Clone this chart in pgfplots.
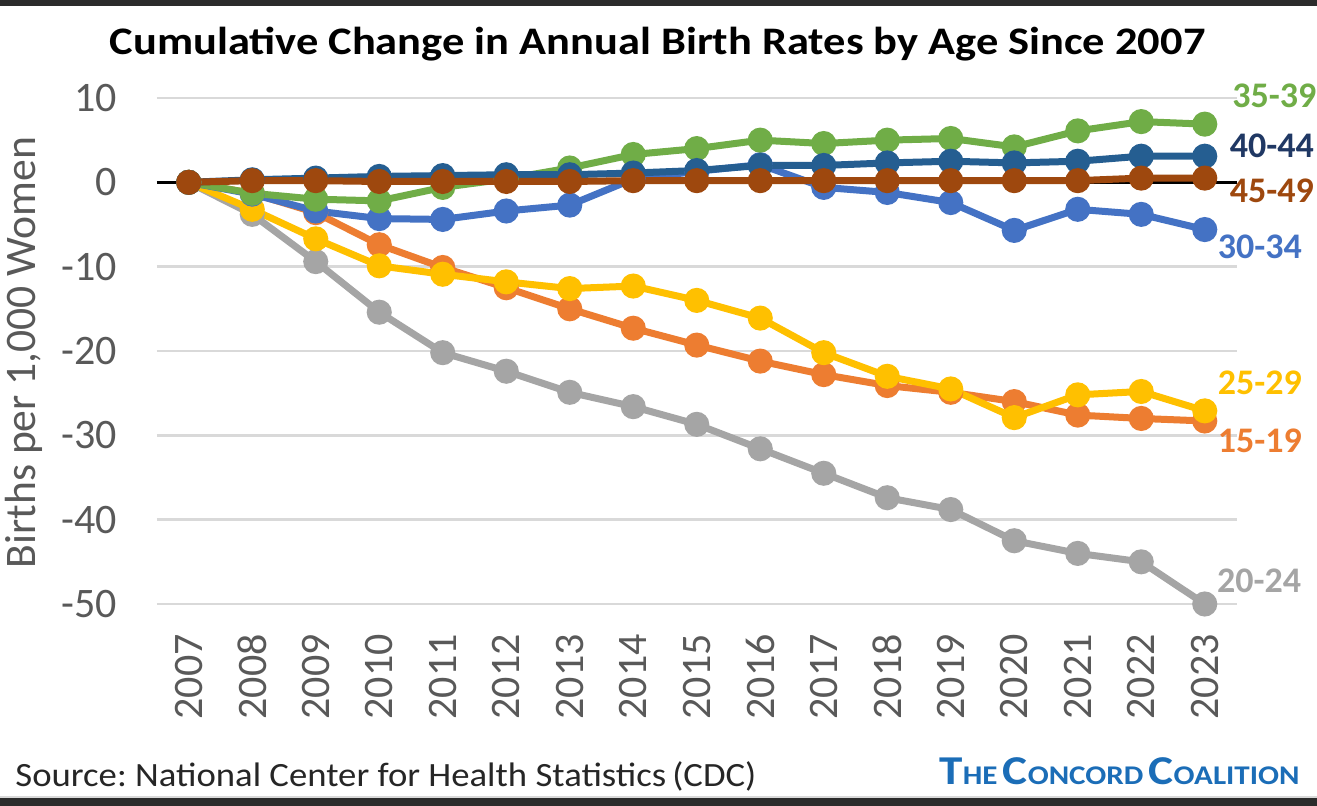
\documentclass[border=0pt]{standalone}
\usepackage{fontspec}
\setmainfont{Carlito}
\usepackage{pgfplots}
\pgfplotsset{compat=1.18}
\frenchspacing
\definecolor{c1519}{HTML}{ED7D31}
\definecolor{c2024}{HTML}{A5A5A5}
\definecolor{c2529}{HTML}{FFC000}
\definecolor{c3034}{HTML}{4472C4}
\definecolor{c3539}{HTML}{70AD47}
\definecolor{c4044}{HTML}{255E91}
\definecolor{c4044t}{HTML}{203864}
\definecolor{c4549}{HTML}{9E480E}
\definecolor{tickgray}{HTML}{595959}
\definecolor{gridgray}{HTML}{D9D9D9}
\definecolor{concord}{HTML}{1B6DB7}
\definecolor{band}{HTML}{2B2B2B}
\begin{document}
\begin{tikzpicture}
\path[use as bounding box, fill=white] (-78.5pt,-101pt) rectangle (580pt,302pt);
\fill[band] (-78.5pt,299pt) rectangle (580pt,302pt);
\fill[band] (-78.5pt,-101pt) rectangle (580pt,-97pt);
\fill[gridgray] (-78.5pt,-97pt) rectangle (580pt,-96pt);
\node[anchor=base, inner sep=0pt, xscale=1.14, font=\fontsize{19.5pt}{19.5pt}\selectfont\bfseries] at (250.25pt,274.5pt) {Cumulative Change in Annual Birth Rates by Age Since 2007};
\node[anchor=base west, inner sep=0pt, xscale=1.08, text={black!85}, font=\fontsize{17pt}{17pt}\selectfont] at (-71pt,-91.5pt) {Source: National Center for Health Statistics\,(CDC)};
\node[anchor=base east, inner sep=0pt, xscale=1.15, text=concord, font=\bfseries] at (571.5pt,-90.5pt) {{\fontsize{20.5pt}{20.5pt}\selectfont T}{\fontsize{13.5pt}{13.5pt}\selectfont HE} {\fontsize{20.5pt}{20.5pt}\selectfont C}{\fontsize{13.5pt}{13.5pt}\selectfont ONCORD} {\fontsize{20.5pt}{20.5pt}\selectfont C}{\fontsize{13.5pt}{13.5pt}\selectfont OALITION}};
\begin{axis}[
  at={(0pt,0pt)}, anchor=south west,
  scale only axis, width=539.75pt, height=253pt,
  xmin=-0.5, xmax=16.5, ymin=-50, ymax=10,
  xtick={0,...,16},
  xticklabels={2007,2008,2009,2010,2011,2012,2013,2014,2015,2016,2017,2018,2019,2020,2021,2022,2023},
  ytick={-50,-40,-30,-20,-10,0,10},
  yticklabels={-50,-40,-30,-20,-10,0,10},
  ymajorgrids, grid style={gridgray, line width=1.25pt},
  axis line style={draw=none}, tick style={draw=none},
  xticklabel style={rotate=90, anchor=east, inner sep=0pt, text=tickgray, font=\fontsize{21pt}{21pt}\selectfont},
  yticklabel style={anchor=east, inner sep=0pt, text=tickgray, font=\fontsize{21pt}{21pt}\selectfont},
  xticklabel shift=15pt, yticklabel shift=20pt,
  ylabel={Births per 1,000 Women},
  ylabel style={at={(axis description cs:-0.113,0.497)}, rotate=0, anchor=base, inner sep=0pt, text=tickgray, font=\fontsize{21.8pt}{21.8pt}\selectfont},
  clip=false,
  every axis plot/.append style={line width=3.5pt, mark=*, mark size=4.5pt, mark options={line width=0.5pt}},
]
\draw[black, line width=1.5pt] (axis cs:-0.5,0) -- (axis cs:16.5,0);
\addplot[c1519, mark options={fill=c1519}] coordinates {(0,0) (1,-1.3) (2,-3.6) (3,-7.4) (4,-10.1) (5,-12.5) (6,-15.0) (7,-17.3) (8,-19.3) (9,-21.2) (10,-22.8) (11,-24.1) (12,-24.9) (13,-26.0) (14,-27.6) (15,-28.0) (16,-28.3)};
\addplot[c2024, mark options={fill=c2024}] coordinates {(0,0) (1,-3.8) (2,-9.4) (3,-15.4) (4,-20.2) (5,-22.4) (6,-24.9) (7,-26.6) (8,-28.7) (9,-31.6) (10,-34.5) (11,-37.4) (12,-38.8) (13,-42.5) (14,-44.0) (15,-45.0) (16,-50.0)};
\addplot[c2529, mark options={fill=c2529}] coordinates {(0,0) (1,-3.2) (2,-6.7) (3,-9.9) (4,-10.9) (5,-11.8) (6,-12.6) (7,-12.3) (8,-14.0) (9,-16.1) (10,-20.2) (11,-23.0) (12,-24.5) (13,-27.9) (14,-25.2) (15,-24.8) (16,-27.1)};
\addplot[c3034, mark options={fill=c3034}] coordinates {(0,0) (1,-1.4) (2,-3.4) (3,-4.3) (4,-4.4) (5,-3.4) (6,-2.7) (7,0.4) (8,1.3) (9,2.1) (10,-0.6) (11,-1.2) (12,-2.4) (13,-5.7) (14,-3.2) (15,-3.8) (16,-5.6)};
\addplot[c3539, mark options={fill=c3539}] coordinates {(0,0) (1,-1.3) (2,-2.0) (3,-2.2) (4,-0.6) (5,0.4) (6,1.7) (7,3.3) (8,4.0) (9,5.0) (10,4.6) (11,5.0) (12,5.2) (13,4.2) (14,6.1) (15,7.2) (16,6.9)};
\addplot[c4044, mark options={fill=c4044}] coordinates {(0,0) (1,0.3) (2,0.5) (3,0.7) (4,0.8) (5,0.9) (6,0.9) (7,1.1) (8,1.4) (9,2.0) (10,2.0) (11,2.3) (12,2.5) (13,2.3) (14,2.5) (15,3.1) (16,3.1)};
\addplot[c4549, mark options={fill=c4549}] coordinates {(0,0) (1,0.2) (2,0.2) (3,0.1) (4,0.1) (5,0.1) (6,0.1) (7,0.2) (8,0.2) (9,0.2) (10,0.2) (11,0.2) (12,0.2) (13,0.2) (14,0.2) (15,0.5) (16,0.5)};
\begin{scope}[every node/.style={anchor=west, inner sep=0pt, font=\fontsize{18pt}{18pt}\selectfont\bfseries}]
\node[text=c3539] at (axis cs:16.43,10.3) {35-39};
\node[text=c4044t] at (axis cs:16.39,4.27) {40-44};
\node[text=c4549] at (axis cs:16.39,-0.95) {45-49};
\node[text=c3034] at (axis cs:16.2,-7.7) {30-34};
\node[text=c2529] at (axis cs:16.2,-23.8) {25-29};
\node[text=c1519] at (axis cs:16.2,-30.7) {15-19};
\node[text=c2024] at (axis cs:16.19,-47.3) {20-24};
\end{scope}
\end{axis}
\end{tikzpicture}
\end{document}
